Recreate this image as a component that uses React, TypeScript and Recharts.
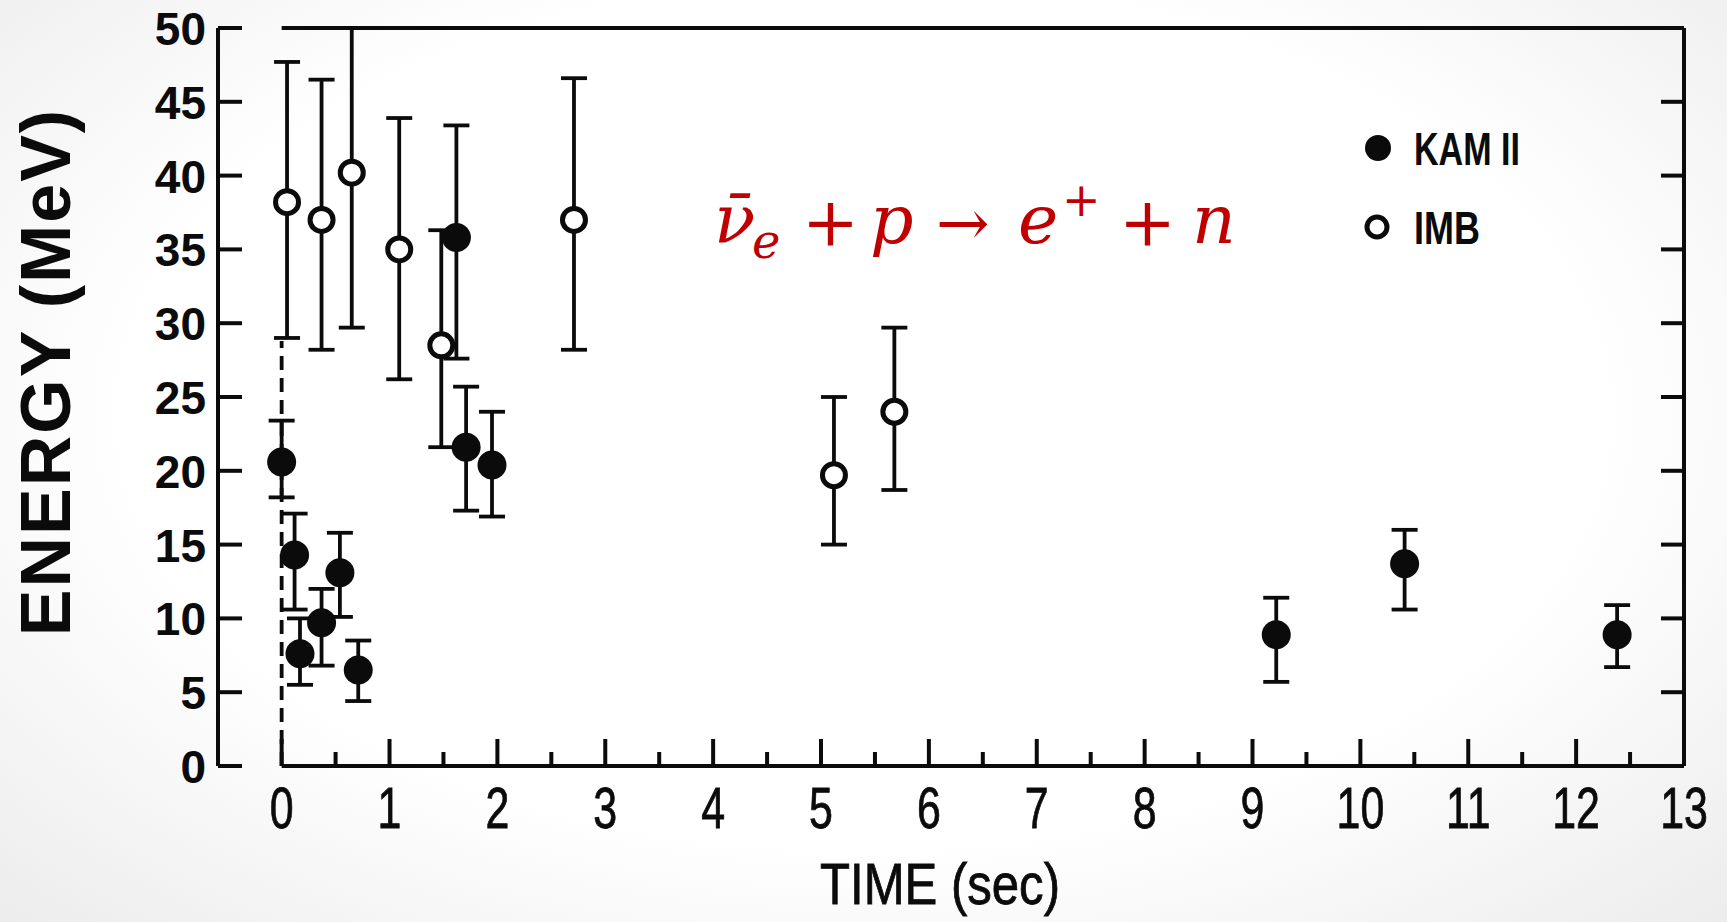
import React from 'react';
import { ScatterChart, Scatter, XAxis, YAxis, ErrorBar, ReferenceLine, Legend } from 'recharts';

const W = 1727;
const H = 922;

// ---- data ----
const kamTime = [0, 0.12, 0.17, 0.37, 0.54, 0.71, 1.62, 1.71, 1.95, 9.22, 10.41, 12.38];
const kamEnergy = [20.6, 14.3, 7.6, 9.7, 13.1, 6.5, 35.8, 21.6, 20.4, 8.9, 13.7, 8.9];
const kamLow = [18.2, 10.6, 5.5, 6.8, 10.1, 4.4, 27.6, 17.3, 16.9, 5.7, 10.6, 6.7];
const kamHigh = [23.4, 17.1, 10.0, 12.0, 15.8, 8.5, 43.4, 25.7, 24.0, 11.4, 16.0, 10.9];

const imbTime = [0.05, 0.37, 0.65, 1.09, 1.48, 2.71, 5.12, 5.68];
const imbEnergy = [38.2, 37.0, 40.2, 35.0, 28.5, 37.0, 19.7, 24.0];
const imbLow = [29.0, 28.2, 29.7, 26.2, 21.6, 28.2, 15.0, 18.7];
const imbHigh = [47.7, 46.5, 50.0, 43.9, 36.3, 46.6, 25.0, 29.7];

const xTicks = [0, 0.5, 1, 1.5, 2, 2.5, 3, 3.5, 4, 4.5, 5, 5.5, 6, 6.5, 7, 7.5, 8, 8.5, 9, 9.5, 10, 10.5, 11, 11.5, 12, 12.5, 13];
const yTicks = [0, 5, 10, 15, 20, 25, 30, 35, 40, 45, 50];
const xDomain: [number, number] = [-0.59, 13];
const yDomain: [number, number] = [0, 50];
const boxTime = [0, 13];
const triggerLineTop = 28.8;

const seriesNames = ['KAM II', 'IMB'];

const kamData = kamTime.map((t, i) => ({
  t,
  e: kamEnergy[i],
  err: [kamEnergy[i] - kamLow[i], kamHigh[i] - kamEnergy[i]],
}));
const imbData = imbTime.map((t, i) => ({
  t,
  e: imbEnergy[i],
  err: [imbEnergy[i] - imbLow[i], imbHigh[i] - imbEnergy[i]],
}));

const INK = '#0b0b0b';
const SANS = '"Liberation Sans", Arial, "DejaVu Sans", sans-serif';
const HIDDEN_LINE = { stroke: 'transparent', strokeWidth: 0 };

const LeftTick = (props: any) => {
  const { x, y, payload } = props;
  return (
    <g>
      <line x1={x} y1={y} x2={x + 24} y2={y} stroke={INK} strokeWidth={4} />
      <text x={x - 12} y={y + 17} textAnchor="end" fontFamily={SANS} fontWeight="bold" fontSize={46} fill={INK}>
        {payload.value}
      </text>
    </g>
  );
};

const RightTick = (props: any) => {
  const { x, y } = props;
  return <line x1={x - 23} y1={y} x2={x} y2={y} stroke={INK} strokeWidth={4} />;
};

const BottomTick = (props: any) => {
  const { x, y, payload } = props;
  const major = Number.isInteger(payload.value);
  return (
    <g>
      <line x1={x} y1={y} x2={x} y2={y - (major ? 27 : 14)} stroke={INK} strokeWidth={4} />
      {major && (
        <text
          transform={`translate(${x}, ${y + 62}) scale(0.74, 1)`}
          textAnchor="middle"
          fontFamily={SANS}
          fontSize={58}
          stroke={INK}
          strokeWidth={0.8}
          fill={INK}
        >
          {payload.value}
        </text>
      )}
    </g>
  );
};

const TopTick = (props: any) => {
  const { x, y, payload } = props;
  const major = Number.isInteger(payload.value);
  return <line x1={x} y1={y} x2={x} y2={y + (major ? 27 : 14)} stroke={INK} strokeWidth={4} />;
};

const FilledDot = (props: any) => {
  const { cx, cy } = props;
  if (cx == null || cy == null) return null;
  return <circle cx={cx} cy={cy} r={14.5} fill={INK} />;
};

const OpenDot = (props: any) => {
  const { cx, cy } = props;
  if (cx == null || cy == null) return null;
  return <circle cx={cx} cy={cy} r={11.5} fill="#ffffff" stroke={INK} strokeWidth={5} />;
};

const LegendContent = (props: any) => {
  const payload = (props.payload || []).filter((p: any) => seriesNames.includes(p.value));
  payload.sort((a: any, b: any) => seriesNames.indexOf(a.value) - seriesNames.indexOf(b.value));
  const widths = [106, 66];
  return (
    <svg width={330} height={140} style={{ overflow: 'visible' }}>
      {payload.map((item: any, i: number) => {
        const cy = 30 + i * 79;
        const filled = item.value === seriesNames[0];
        return (
          <g key={item.value}>
            {filled ? (
              <circle cx={20} cy={cy} r={13} fill={INK} />
            ) : (
              <circle cx={19} cy={cy} r={10} fill="#fff" stroke={INK} strokeWidth={5} />
            )}
            <text
              x={56}
              y={cy + 17}
              fontFamily={SANS}
              fontWeight="bold"
              fontSize={46}
              textLength={widths[i]}
              lengthAdjust="spacingAndGlyphs"
              fill={INK}
            >
              {item.value}
            </text>
          </g>
        );
      })}
    </svg>
  );
};

const XTitle = () => (
  <text
    x={940}
    y={904}
    textAnchor="middle"
    fontFamily={SANS}
    fontSize={58}
    textLength={240}
    lengthAdjust="spacingAndGlyphs"
    stroke={INK}
    strokeWidth={0.8}
    fill={INK}
  >
    TIME (sec)
  </text>
);

const YTitle = () => (
  <text
    x={70}
    y={372}
    transform="rotate(-90, 70, 372)"
    textAnchor="middle"
    fontFamily={SANS}
    fontWeight="bold"
    fontSize={70}
    letterSpacing={2}
    fill={INK}
  >
    ENERGY  (MeV)
  </text>
);

const RED = '#c00000';
const SERIF = '"DejaVu Serif", "Liberation Serif", serif';

export default function App() {
  return (
    <div
      style={{
        position: 'absolute',
        left: 0,
        top: 0,
        width: W,
        height: H,
        overflow: 'hidden',
        background: 'radial-gradient(ellipse at 50% 45%, #ffffff 60%, #ececec 100%)',
      }}
    >
      <ScatterChart width={W} height={H} margin={{ top: 0, right: 0, bottom: 0, left: 0 }}>
        <XAxis
          xAxisId="b"
          type="number"
          dataKey="t"
          domain={xDomain}
          allowDataOverflow
          ticks={xTicks}
          interval={0}
          axisLine={HIDDEN_LINE}
          tickLine={false}
          tickSize={0}
          tickMargin={0}
          height={156}
          tick={<BottomTick />}
          label={<XTitle />}
        />
        <XAxis
          xAxisId="t"
          orientation="top"
          type="number"
          domain={xDomain}
          allowDataOverflow
          ticks={xTicks}
          interval={0}
          axisLine={HIDDEN_LINE}
          tickLine={false}
          tickSize={0}
          tickMargin={0}
          height={28}
          tick={<TopTick />}
        />
        <YAxis
          yAxisId="l"
          type="number"
          dataKey="e"
          domain={yDomain}
          allowDataOverflow
          ticks={yTicks}
          interval={0}
          axisLine={{ stroke: INK, strokeWidth: 4 }}
          tickLine={false}
          tickSize={0}
          tickMargin={0}
          width={218}
          tick={<LeftTick />}
          label={<YTitle />}
        />
        <YAxis
          yAxisId="r"
          orientation="right"
          type="number"
          domain={yDomain}
          allowDataOverflow
          ticks={yTicks}
          interval={0}
          axisLine={{ stroke: INK, strokeWidth: 4 }}
          tickLine={false}
          tickSize={0}
          tickMargin={0}
          width={43}
          tick={<RightTick />}
        />
        <ReferenceLine
          xAxisId="b"
          yAxisId="l"
          segment={[{ x: boxTime[0], y: yDomain[0] }, { x: boxTime[1], y: yDomain[0] }]}
          ifOverflow="visible"
          stroke={INK}
          strokeWidth={4}
        />
        <ReferenceLine
          xAxisId="b"
          yAxisId="l"
          segment={[{ x: boxTime[0], y: yDomain[1] }, { x: boxTime[1], y: yDomain[1] }]}
          ifOverflow="visible"
          stroke={INK}
          strokeWidth={4}
        />
        <ReferenceLine
          xAxisId="b"
          yAxisId="l"
          segment={[{ x: boxTime[0], y: yDomain[0] }, { x: boxTime[0], y: triggerLineTop }]}
          ifOverflow="visible"
          stroke={INK}
          strokeWidth={3.8}
          strokeDasharray="14 8"
        />
        <Scatter
          name={seriesNames[0]}
          data={kamData}
          xAxisId="b"
          yAxisId="l"
          fill={INK}
          shape={<FilledDot />}
          isAnimationActive={false}
        >
          <ErrorBar dataKey="err" direction="y" width={13} stroke={INK} strokeWidth={3.8} isAnimationActive={false} />
        </Scatter>
        <Scatter
          name={seriesNames[1]}
          data={imbData}
          xAxisId="b"
          yAxisId="l"
          fill="#ffffff"
          shape={<OpenDot />}
          isAnimationActive={false}
        >
          <ErrorBar dataKey="err" direction="y" width={13} stroke={INK} strokeWidth={3.8} isAnimationActive={false} />
        </Scatter>
        <Legend
          layout="horizontal"
          verticalAlign="middle"
          align="center"
          wrapperStyle={{ left: 1358, top: 118, width: 330, height: 140 }}
          content={<LegendContent />}
        />
      </ScatterChart>
      <svg width={W} height={H} style={{ position: 'absolute', left: 0, top: 0, pointerEvents: 'none' }}>
        <text fontFamily={SERIF} fill={RED}>
          <tspan x={714} y={243} fontSize={68} fontStyle="italic">ν̄</tspan>
          <tspan x={752} y={258} fontSize={48} fontStyle="italic">e</tspan>
          <tspan x={802} y={245} fontSize={68}>+</tspan>
          <tspan x={870} y={243} fontSize={68} fontStyle="italic">p</tspan>
          <tspan x={936} y={245} fontSize={64}>→</tspan>
          <tspan x={1018} y={243} fontSize={68} fontStyle="italic">e</tspan>
          <tspan x={1062} y={216} fontSize={46}>+</tspan>
          <tspan x={1119} y={245} fontSize={68}>+</tspan>
          <tspan x={1192} y={243} fontSize={68} fontStyle="italic">n</tspan>
        </text>
      </svg>
    </div>
  );
}
